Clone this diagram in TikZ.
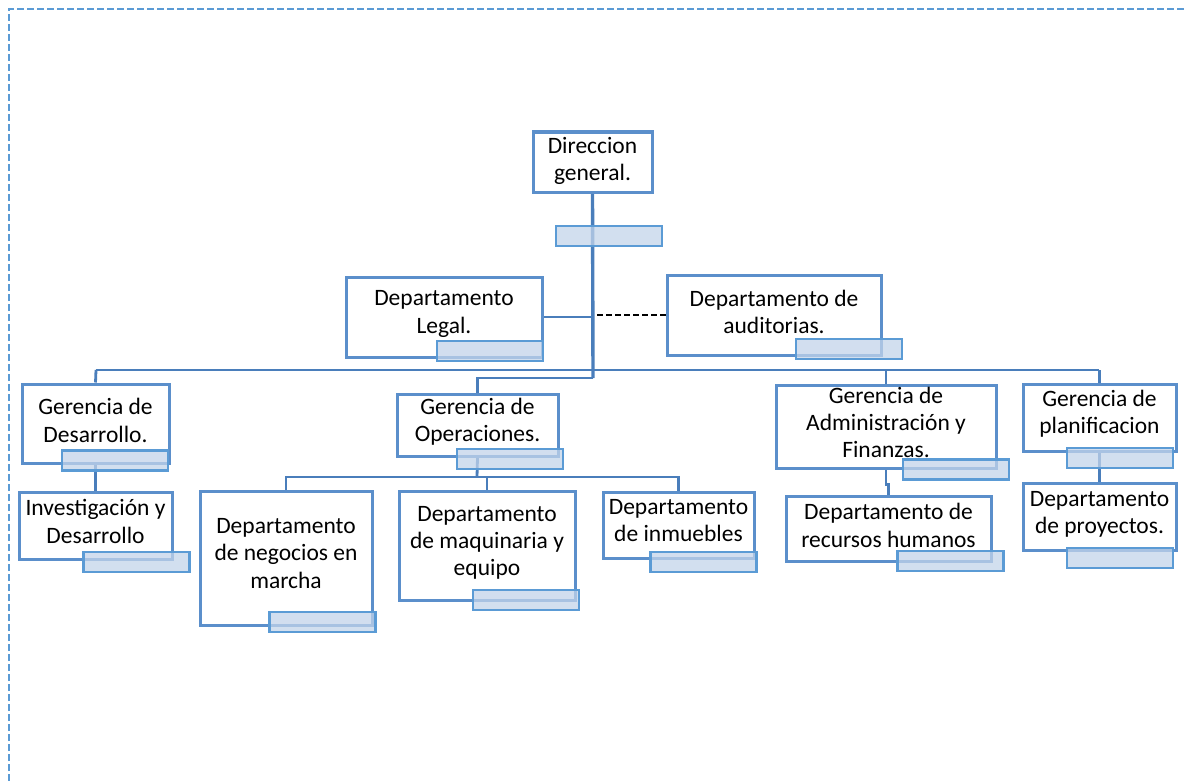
\documentclass[tikz,border=0pt]{standalone}
\usepackage{fontspec}
\setmainfont{Carlito}
\usetikzlibrary{backgrounds}
\definecolor{boxblue}{HTML}{5B8FCB}
\definecolor{linecol}{HTML}{4A7EBB}
\definecolor{framecol}{HTML}{5B9BD5}
\definecolor{tagfill}{HTML}{C3D4EA}
\begin{document}
\begin{tikzpicture}[x=1pt,y=-1pt,
  box/.style={draw=boxblue, line width=3pt, fill=white, inner sep=0pt},
  lbl/.style={align=center, inner sep=0pt, font=\fontsize{23.5}{27.3}\selectfont},
  tag/.style={draw=framecol, line width=2.8pt, fill=tagfill, fill opacity=0.75, inner sep=0pt,
    minimum width=106pt, minimum height=20pt},
  conn/.style={draw=linecol, line width=2.8pt},
  trunk/.style={draw=linecol, line width=3.4pt}]
\useasboundingbox (0,0) rectangle (1185,781);
\draw[framecol, line width=1.6pt, dash pattern=on 7pt off 3pt] (9,781) -- (9,9) -- (1185,9);

% boxes
\path
  (592.5,162) node[box, minimum width=119pt, minimum height=60pt] (dir) {}
  (444,317) node[box, minimum width=196pt, minimum height=80pt] (legal) {}
  (774,315) node[box, minimum width=214pt, minimum height=80pt] (aud) {}
  (95.5,423.5) node[box, minimum width=147pt, minimum height=79pt] (des) {}
  (95.5,526) node[box, minimum width=153pt, minimum height=67pt] (inv) {}
  (477.5,425) node[box, minimum width=161pt, minimum height=62pt] (ope) {}
  (286,558) node[box, minimum width=172pt, minimum height=134pt] (neg) {}
  (487,545.5) node[box, minimum width=176pt, minimum height=109pt] (maq) {}
  (678.5,525) node[box, minimum width=151pt, minimum height=66pt] (inm) {}
  (886,426.5) node[box, minimum width=220pt, minimum height=83pt] (adm) {}
  (888.5,528.5) node[box, minimum width=205pt, minimum height=65pt] (rrhh) {}
  (1099.5,417.5) node[box, minimum width=153pt, minimum height=67pt] (pla) {}
  (1099.5,516.5) node[box, minimum width=153pt, minimum height=67pt] (pro) {};

% texts
\node[lbl] (dirT) at (592.5,161) {Direccion\\general.};
\node[lbl] (legalT) at (444,314) {Departamento\\Legal.};
\node[lbl] (audT) at (774,312) {Departamento de\\auditorias.};
\node[lbl] (desT) at (95.5,420.5) {Gerencia de\\Desarrollo.};
\node[lbl] (invT) at (95.5,521.5) {Investigación y\\Desarrollo};
\node[lbl] (opeT) at (477.5,421.5) {Gerencia de\\Operaciones.};
\node[lbl] (negT) at (286,553.5) {Departamento\\de negocios en\\marcha};
\node[lbl] (maqT) at (487,543) {Departamento\\de maquinaria y\\equipo};
\node[lbl] (inmT) at (678.5,520.5) {Departamento\\de inmuebles};
\node[lbl] (admT) at (886,422.5) {Gerencia de\\Administración y\\Finanzas.};
\node[lbl] (rrhhT) at (888.5,525.5) {Departamento de\\recursos humanos};
\node[lbl] (plaT) at (1099.5,414) {Gerencia de\\planificacion};
\node[lbl] (proT) at (1099.5,514) {Departamento\\de proyectos.};

\coordinate (tb) at (593,378);
\coordinate (bL) at (96,370);
\coordinate (bR) at (1099,370);
\coordinate (ob) at (477,477);

% connectors behind boxes
\begin{scope}[on background layer]
  \draw[trunk] (dir.south) -- (tb);
  \draw[conn] (bL) -- (bR);
  \draw[conn] (bL) -- (des.north);
  \draw[conn] (adm.north) -- (adm.north |- bR);
  \draw[conn] (pla.north) -- (pla.north |- bR);
  \draw[conn] (tb) -| (ope.north);
  \draw[conn] (legal.east) -- (legal.east -| dir.south);
  \draw[conn] (des.south) -- (inv.north);
  \draw[conn] (ope.south) -- (ob);
  \draw[conn] (neg.north) |- (inm.north |- ob) -- (inm.north);
  \draw[conn] (maq.north) -- (maq.north |- ob);
  \draw[conn] (adm.south) -- ++(0,15) -| (rrhh.north);
  \draw[conn] (pla.south) -- (pro.north);
\end{scope}
\draw[black, line width=2.2pt, dash pattern=on 6pt off 3pt] (aud.west) -- ([xshift=3pt]aud.west -| dir.south);

% small label boxes
\path
  (609,236) node[tag] (dirS) {}
  (490,351) node[tag] (legalS) {}
  (849,349) node[tag] (audS) {}
  (115,460.5) node[tag] (desS) {}
  (136.5,562) node[tag] (invS) {}
  (510,459) node[tag] (opeS) {}
  (322.5,622) node[tag] (negS) {}
  (526,600) node[tag] (maqS) {}
  (703.5,562) node[tag] (inmS) {}
  (956,469.5) node[tag] (admS) {}
  (950.5,561) node[tag] (rrhhS) {}
  (1120,458) node[tag] (plaS) {}
  (1120,558) node[tag] (proS) {};
\end{tikzpicture}
\end{document}
